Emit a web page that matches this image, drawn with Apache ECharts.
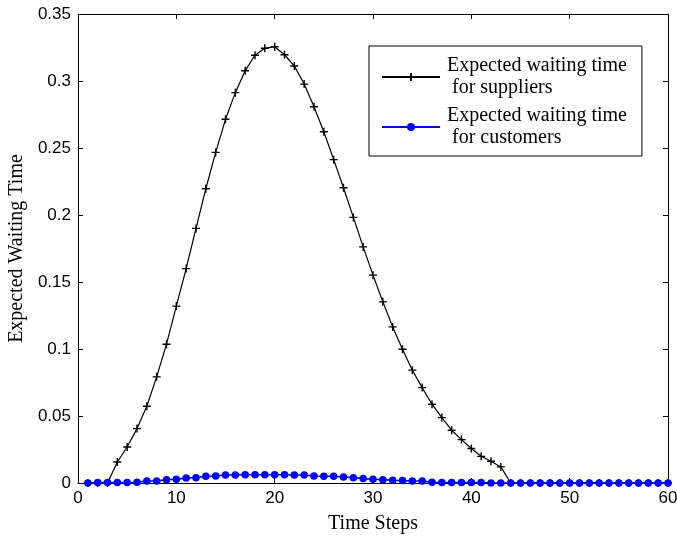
<!DOCTYPE html>
<html>
<head>
<meta charset="utf-8">
<script src="https://cdn.jsdelivr.net/npm/echarts@6.0.0/dist/echarts.min.js"></script>
<style>
html,body{margin:0;padding:0;background:#fff;}
#chart{width:677px;height:542px;}
</style>
</head>
<body>
<div id="chart"></div>
<script>
// Time steps (x values)
var timeSteps = [];
for (var i = 1; i <= 60; i++) timeSteps.push(i);

// Expected waiting time for suppliers (x = 1..60)
var suppliers = [
  0, 0, 0, 0.0157, 0.0269, 0.0406, 0.0573, 0.0792, 0.1036, 0.132,
  0.160, 0.190, 0.2196, 0.2467, 0.2714, 0.2913, 0.3077, 0.3192, 0.3244, 0.3256,
  0.3196, 0.3112, 0.2977, 0.2808, 0.2621, 0.2413, 0.2203, 0.1982, 0.1762, 0.1551,
  0.1352, 0.1165, 0.0998, 0.0842, 0.0712, 0.0588, 0.0488, 0.0394, 0.0324, 0.0257,
  0.0199, 0.0162, 0.0120, 0, 0, 0, 0, 0, 0, 0,
  0, 0, 0, 0, 0, 0, 0, 0, 0, 0
];

// Expected waiting time for customers (x = 1..60)
var customers = [
  0, 0.0003, 0.0003, 0.0003, 0.0003, 0.0005, 0.0015, 0.0015, 0.0025, 0.0028,
  0.0037, 0.004, 0.005, 0.0052, 0.006, 0.006, 0.0062, 0.0062, 0.0062, 0.0062,
  0.0062, 0.006, 0.006, 0.0052, 0.005, 0.005, 0.0045, 0.004, 0.0033, 0.0028,
  0.0025, 0.002, 0.0018, 0.0015, 0.0015, 0.0005, 0.0003, 0.0003, 0.0003, 0.0003,
  0.0003, 0, 0, 0, 0, 0, 0, 0, 0, 0,
  0, 0, 0, 0, 0, 0, 0, 0, 0, 0
];

var seriesNames = ['Expected waiting time\n for suppliers', 'Expected waiting time\n for customers'];
var xTitle = 'Time Steps';
var yTitle = 'Expected Waiting Time';

function pairs(ys) { return timeSteps.map(function (x, k) { return [x, ys[k]]; }); }

var sansFont = '"Liberation Sans", Arial, sans-serif';
var serifFont = '"Liberation Serif", "Times New Roman", serif';

var tickCommon = { show: true, inside: true, length: 5, lineStyle: { color: '#000', width: 1 } };
var lineCommon = { show: true, onZero: false, lineStyle: { color: '#000', width: 1 } };

var chart = echarts.init(document.getElementById('chart'), null, { renderer: 'canvas' });
chart.setOption({
  backgroundColor: '#fff',
  animation: false,
  grid: { left: 78, right: 9, top: 14, bottom: 59, containLabel: false, outerBoundsMode: 'none' },
  legend: {
    orient: 'vertical',
    left: 369, top: 46,
    padding: [9, 15, 7, 12],
    itemWidth: 58, itemHeight: 10, itemGap: 6,
    borderColor: '#000', borderWidth: 1,
    backgroundColor: '#fff',
    textStyle: { fontFamily: serifFont, fontSize: 20, lineHeight: 22, color: '#000', padding: [0, 0, 0, 2] },
    data: seriesNames
  },
  xAxis: [
    {
      type: 'value', position: 'bottom', min: 0, max: 60, interval: 10,
      axisLine: lineCommon, axisTick: tickCommon, splitLine: { show: false },
      axisLabel: { fontFamily: sansFont, fontSize: 17, color: '#000', margin: 7 },
      name: xTitle, nameLocation: 'middle', nameGap: 31,
      nameTextStyle: { fontFamily: serifFont, fontSize: 20, color: '#000' }
    },
    {
      type: 'value', position: 'top', min: 0, max: 60, interval: 10,
      axisLine: lineCommon, axisTick: tickCommon, splitLine: { show: false },
      axisLabel: { show: false }
    }
  ],
  yAxis: [
    {
      type: 'value', position: 'left', min: 0, max: 0.35, interval: 0.05,
      axisLine: lineCommon, axisTick: tickCommon, splitLine: { show: false },
      axisLabel: { fontFamily: sansFont, fontSize: 17, color: '#000', margin: 7 },
      name: yTitle, nameLocation: 'middle', nameGap: 51, nameRotate: 90,
      nameTextStyle: { fontFamily: serifFont, fontSize: 20, color: '#000' }
    },
    {
      type: 'value', position: 'right', min: 0, max: 0.35, interval: 0.05,
      axisLine: lineCommon, axisTick: tickCommon, splitLine: { show: false },
      axisLabel: { show: false }
    }
  ],
  series: [
    {
      name: seriesNames[0], type: 'line', data: pairs(suppliers),
      symbol: 'path://M5,0L5,10M0,5L10,5', symbolSize: 8, showAllSymbol: true,
      lineStyle: { color: '#000', width: 1.2 },
      itemStyle: { color: '#000', borderColor: '#000', borderWidth: 1.4 },
      clip: false, z: 2
    },
    {
      name: seriesNames[1], type: 'line', data: pairs(customers),
      symbol: 'circle', symbolSize: 7.5, showAllSymbol: true,
      lineStyle: { color: '#0000ff', width: 1.6 },
      itemStyle: { color: '#0000ff', borderWidth: 0 },
      clip: false, z: 3
    }
  ]
});
</script>
</body>
</html>
